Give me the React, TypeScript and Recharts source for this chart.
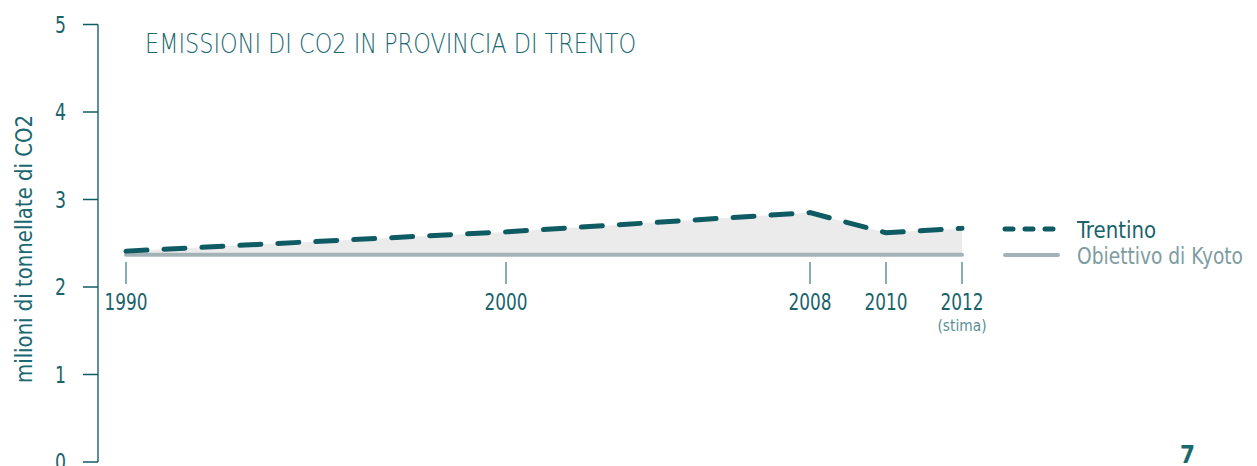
import { ComposedChart, Area, Line, Scatter, XAxis, YAxis } from "recharts";

const YEARS = [1990, 2000, 2008, 2010, 2012];
const TRENTINO = [2.41, 2.63, 2.85, 2.62, 2.67];
const KYOTO = [2.37, 2.37, 2.37, 2.37, 2.37];
const YEAR_LABELS = ["1990", "2000", "2008", "2010", "2012"];
const YEAR_NOTES = ["", "", "", "", "(stima)"];
const Y_TICKS = [0, 1, 2, 3, 4, 5];

const FONT = "'DejaVu Sans Condensed', 'DejaVu Sans', sans-serif";
const DARK = "#0f5b63";
const TEXT = "#1a636b";
const AXIS = "#5d9298";
const KYOTO_COLOR = "#a3b2b7";
const TICK_Y = 2.285;

const data = YEARS.map((year, i) => ({
  year,
  trentino: TRENTINO[i],
  kyoto: KYOTO[i],
}));

const tickData = YEARS.map((year, i) => ({
  year,
  y: TICK_Y,
  label: YEAR_LABELS[i],
  note: YEAR_NOTES[i],
}));

function YearTick(props: any) {
  const { cx, cy, payload } = props;
  return (
    <g>
      <line x1={cx} y1={cy} x2={cx} y2={cy + 22} stroke={AXIS} strokeWidth={1.5} />
      <text
        x={cx}
        y={cy + 48}
        textAnchor="middle"
        fontSize={23}
        fill={TEXT}
        fontFamily={FONT}
        textLength={43}
        lengthAdjust="spacingAndGlyphs"
      >
        {payload.label}
      </text>
      {payload.note ? (
        <text
          x={cx}
          y={cy + 69}
          textAnchor="middle"
          fontSize={16}
          fill="#5a8f95"
          fontFamily={FONT}
          textLength={49}
          lengthAdjust="spacingAndGlyphs"
        >
          {payload.note}
        </text>
      ) : null}
    </g>
  );
}

function ValueTick(props: any) {
  const { x, y, payload } = props;
  return (
    <text
      x={x}
      y={y}
      dy={8}
      textAnchor="end"
      fontSize={23}
      fill={TEXT}
      fontFamily={FONT}
      textLength={11}
      lengthAdjust="spacingAndGlyphs"
    >
      {payload.value}
    </text>
  );
}

export default function App() {
  return (
    <div style={{ position: "relative", width: 1241, height: 458, fontFamily: FONT }}>
      <ComposedChart
        width={1241}
        height={458}
        data={data}
        margin={{ top: 16.5, right: 287, bottom: 4, left: 0 }}
      >
        <XAxis
          dataKey="year"
          type="number"
          domain={[1990, 2012]}
          ticks={YEARS}
          padding={{ left: 28, right: 0 }}
          hide
        />
        <YAxis
          width={90}
          domain={[0, 5]}
          ticks={Y_TICKS}
          interval={0}
          tickSize={15}
          tickMargin={17}
          axisLine={{ stroke: AXIS, strokeWidth: 2 }}
          tickLine={{ stroke: DARK, strokeWidth: 1.5 }}
          tick={<ValueTick />}
        />
        <Area
          dataKey={(d: any) => [d.kyoto, d.trentino]}
          type="linear"
          fill="#ebebeb"
          fillOpacity={1}
          stroke="none"
          isAnimationActive={false}
        />
        <Line
          dataKey="kyoto"
          type="linear"
          stroke={KYOTO_COLOR}
          strokeWidth={4}
          strokeLinecap="round"
          dot={false}
          isAnimationActive={false}
        />
        <Line
          dataKey="trentino"
          type="linear"
          stroke={DARK}
          strokeWidth={5}
          strokeDasharray="21 17"
          strokeLinecap="round"
          dot={false}
          isAnimationActive={false}
        />
        <Scatter
          data={tickData}
          dataKey="y"
          shape={YearTick}
          isAnimationActive={false}
        />
      </ComposedChart>
      <svg
        width={1241}
        height={458}
        style={{ position: "absolute", left: 0, top: 0, pointerEvents: "none" }}
      >
        <text
          x={137}
          y={45}
          fontSize={27}
          fontWeight={200}
          fill="#1b6870"
          fontFamily="'DejaVu Sans', sans-serif"
          textLength={491}
          lengthAdjust="spacingAndGlyphs"
        >
          EMISSIONI DI CO2 IN PROVINCIA DI TRENTO
        </text>
        <text
          x={0}
          y={0}
          transform="translate(24, 241) rotate(-90)"
          textAnchor="middle"
          fontSize={23}
          fill="#1b6870"
          fontFamily={FONT}
          textLength={268}
          lengthAdjust="spacingAndGlyphs"
        >
          milioni di tonnellate di CO2
        </text>
        <line x1={997} y1={221} x2={1050} y2={221} stroke={DARK} strokeWidth={5} strokeDasharray="8 12" strokeLinecap="round" />
        <text
          x={1069}
          y={230}
          fontSize={23}
          fill={TEXT}
          fontFamily={FONT}
          textLength={79}
          lengthAdjust="spacingAndGlyphs"
        >
          Trentino
        </text>
        <line x1={997} y1={247} x2={1050} y2={247} stroke={KYOTO_COLOR} strokeWidth={4} strokeLinecap="round" />
        <text
          x={1069}
          y={256}
          fontSize={23}
          fill="#7d9ca1"
          fontFamily={FONT}
          textLength={166}
          lengthAdjust="spacingAndGlyphs"
        >
          Obiettivo di Kyoto
        </text>
        <text x={1172} y={455} fontSize={24} fontWeight="bold" fill="#1b6870" fontFamily={FONT}>
          7
        </text>
      </svg>
    </div>
  );
}
